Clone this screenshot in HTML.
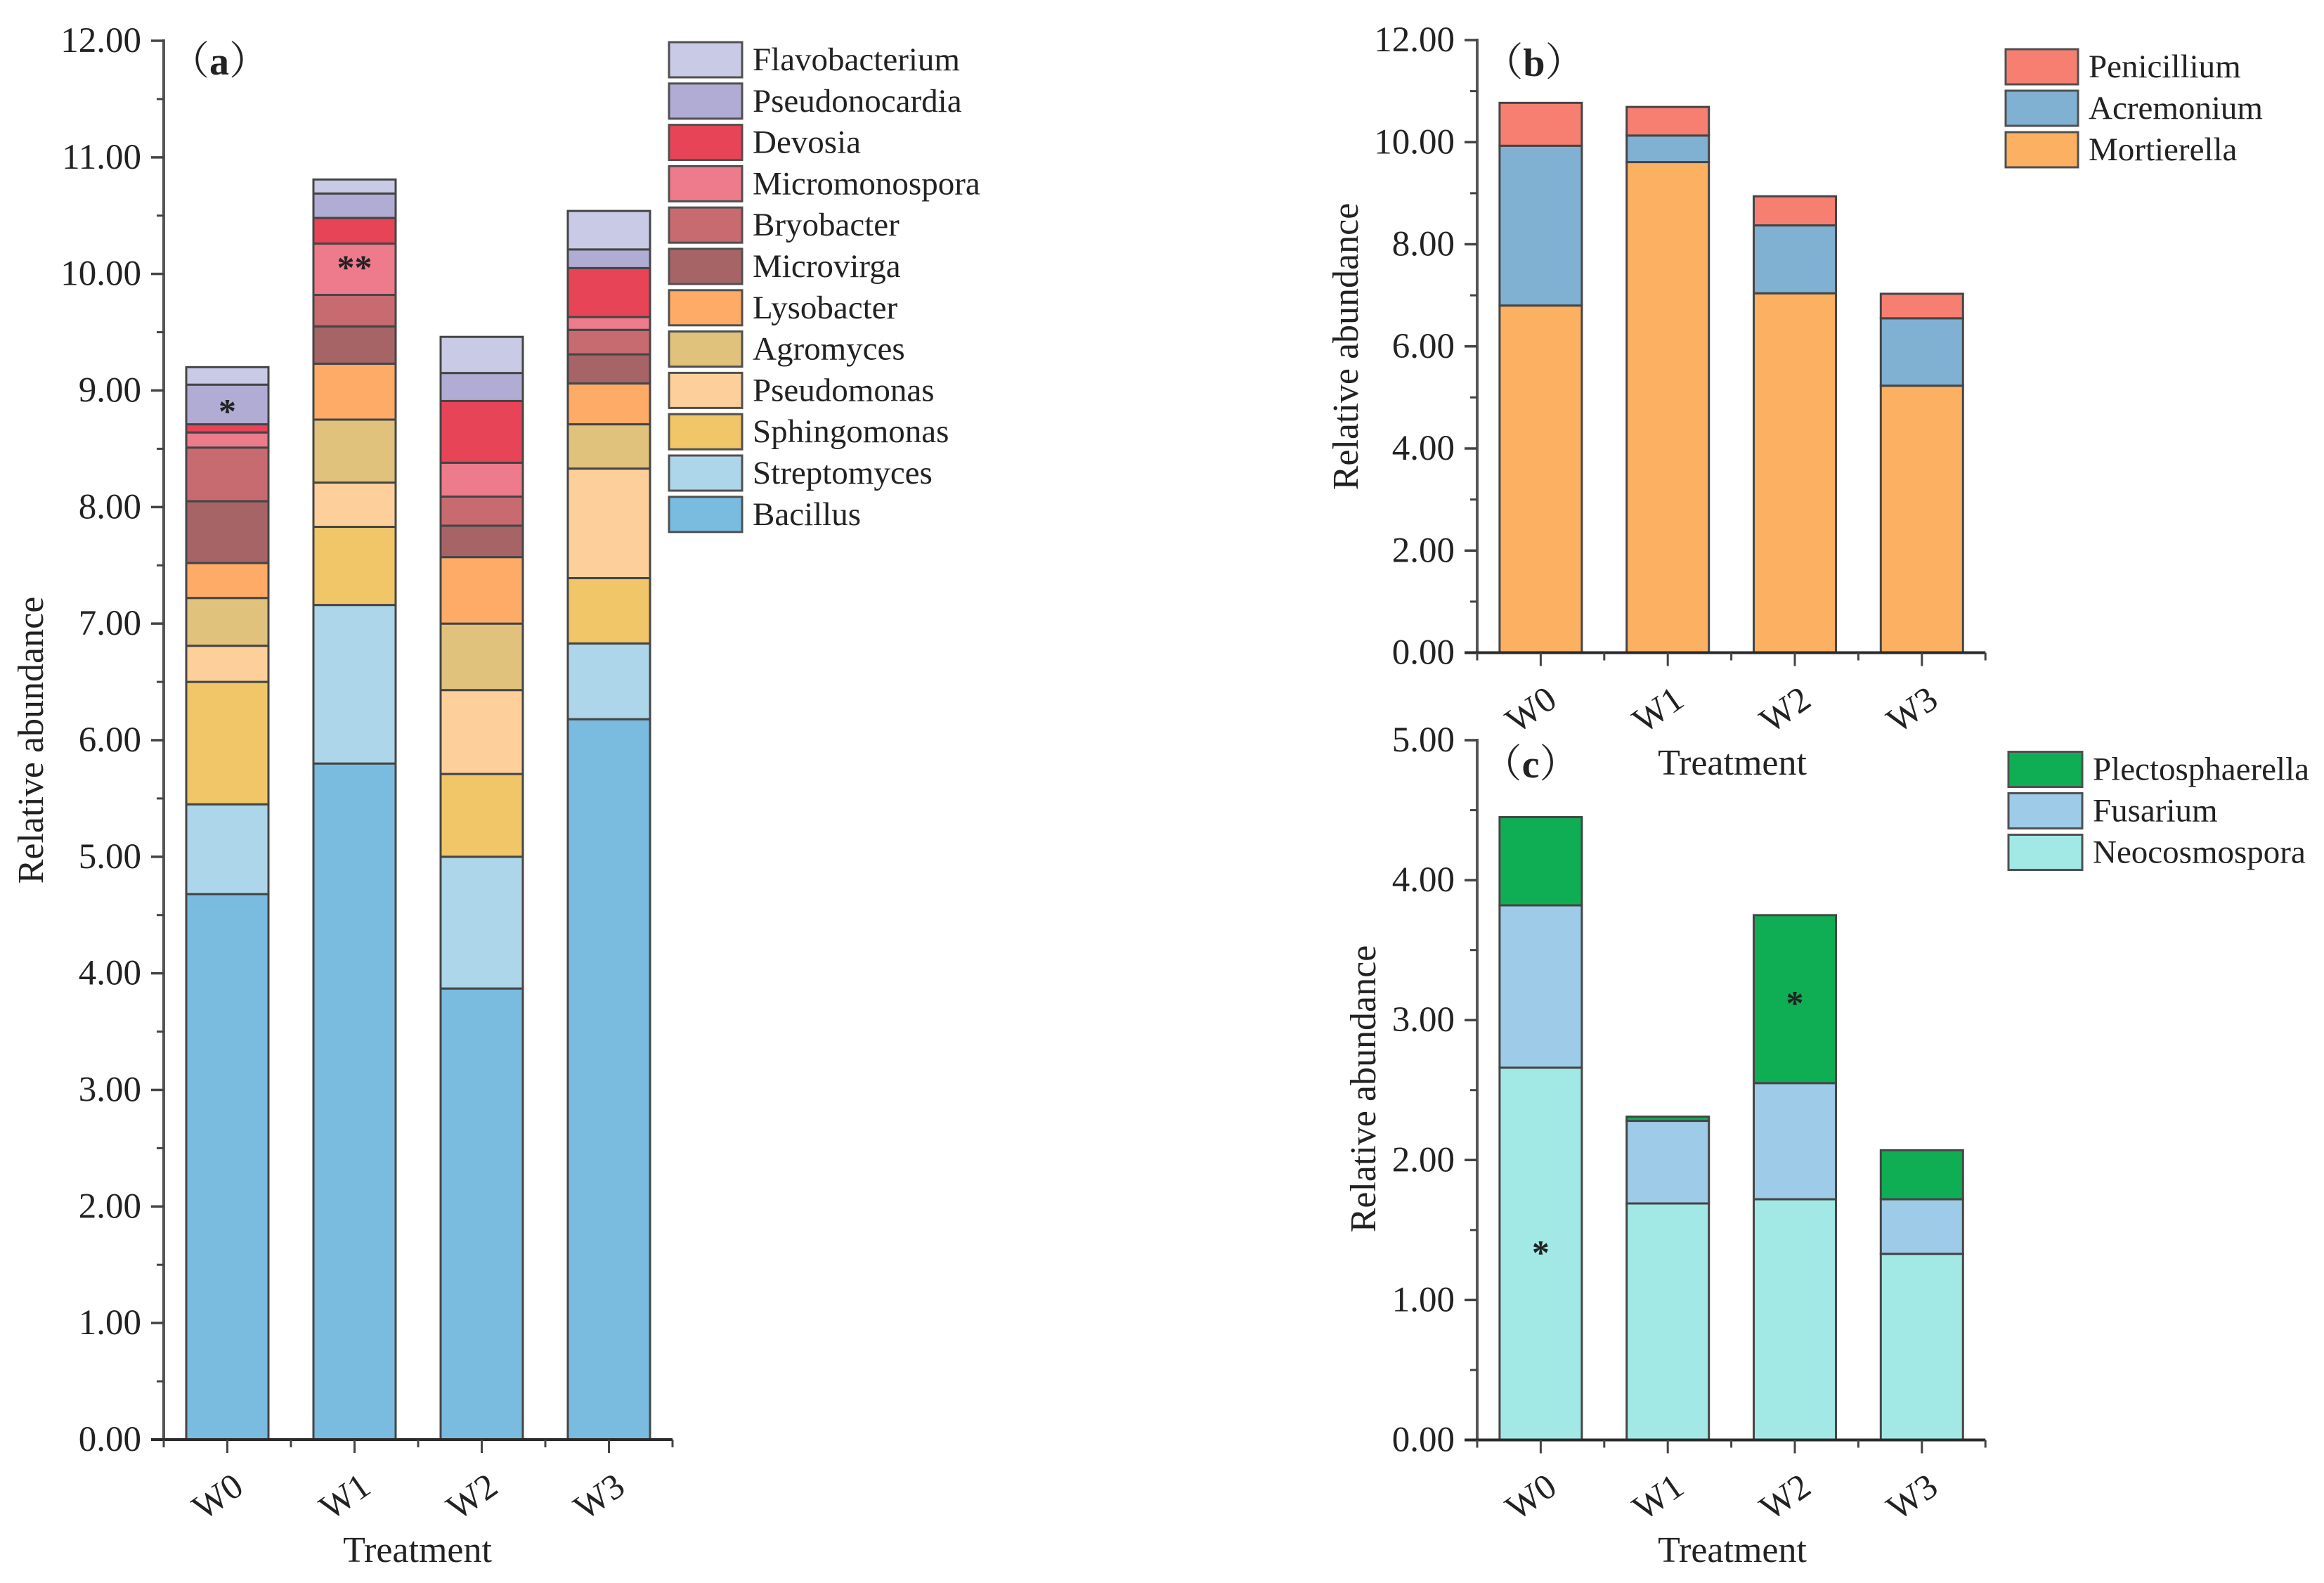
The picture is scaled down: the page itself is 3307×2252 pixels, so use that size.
<!DOCTYPE html>
<html lang="en">
<head>
<meta charset="utf-8">
<title>Relative abundance by treatment</title>
<style>
html,body{margin:0;padding:0;background:#fff;width:3307px;height:2252px;overflow:hidden}
svg{display:block}
text{font-family:"Liberation Serif","Noto Serif CJK SC",serif;fill:#222}
</style>
</head>
<body>
<svg id="figure" xmlns="http://www.w3.org/2000/svg" width="3307" height="2252" viewBox="0 0 3307 2252">
<rect x="0" y="0" width="3307" height="2252" fill="#ffffff"/>
<g id="panel-a"></g>
<g id="panel-b"></g>
<g id="panel-c"></g>
</svg>
<script>
// Shared categories
const categories = ['W0', 'W1', 'W2', 'W3'];

// Panel (a) – stacked segment values, bottom to top
const seriesNamesA = ['Bacillus', 'Streptomyces', 'Sphingomonas', 'Pseudomonas', 'Agromyces', 'Lysobacter', 'Microvirga', 'Bryobacter', 'Micromonospora', 'Devosia', 'Pseudonocardia', 'Flavobacterium'];
const bacillus = [4.68, 5.80, 3.87, 6.18];
const streptomyces = [0.77, 1.36, 1.13, 0.65];
const sphingomonas = [1.05, 0.67, 0.71, 0.56];
const pseudomonas = [0.31, 0.38, 0.72, 0.94];
const agromyces = [0.41, 0.54, 0.57, 0.38];
const lysobacter = [0.30, 0.48, 0.57, 0.35];
const microvirga = [0.53, 0.32, 0.27, 0.25];
const bryobacter = [0.46, 0.27, 0.25, 0.21];
const micromonospora = [0.13, 0.44, 0.29, 0.11];
const devosia = [0.07, 0.22, 0.53, 0.42];
const pseudonocardia = [0.34, 0.21, 0.24, 0.16];
const flavobacterium = [0.15, 0.12, 0.31, 0.33];
const tickLabelsA = ['0.00', '1.00', '2.00', '3.00', '4.00', '5.00', '6.00', '7.00', '8.00', '9.00', '10.00', '11.00', '12.00'];

// Panel (b)
const seriesNamesB = ['Mortierella', 'Acremonium', 'Penicillium'];
const mortierella = [6.80, 9.61, 7.04, 5.23];
const acremonium = [3.13, 0.52, 1.33, 1.32];
const penicillium = [0.84, 0.56, 0.57, 0.48];
const tickLabelsB = ['0.00', '2.00', '4.00', '6.00', '8.00', '10.00', '12.00'];

// Panel (c)
const seriesNamesC = ['Neocosmospora', 'Fusarium', 'Plectosphaerella'];
const neocosmospora = [2.66, 1.69, 1.72, 1.33];
const fusarium = [1.16, 0.59, 0.83, 0.39];
const plectosphaerella = [0.63, 0.03, 1.20, 0.35];
const tickLabelsC = ['0.00', '1.00', '2.00', '3.00', '4.00', '5.00'];

const SVG_NS = 'http://www.w3.org/2000/svg';

function make(parent, tag, attrs, content) {
  const node = document.createElementNS(SVG_NS, tag);
  for (const key in attrs) node.setAttribute(key, attrs[key]);
  if (content !== undefined) node.textContent = content;
  parent.appendChild(node);
  return node;
}

function slug(s) {
  return s.toLowerCase().replace(/[^a-z0-9]+/g, '-');
}

function drawPanel(opts) {
  const root = document.getElementById(opts.id);
  const yMax = parseFloat(opts.tickLabels[opts.tickLabels.length - 1]);
  const y = v => opts.y0 - (v / yMax) * (opts.y0 - opts.yTop);
  const step = opts.step;
  const x = i => opts.x0 + step * (i + 0.5);
  const xEnd = opts.x0 + step * categories.length;

  // bars
  const barWidth = 117;
  categories.forEach((cat, c) => {
    let base = 0;
    opts.series.forEach((vals, s) => {
      const top = base + vals[c];
      const rect = make(root, 'rect', {
        x: x(c) - barWidth / 2,
        y: y(top),
        width: barWidth,
        height: y(base) - y(top),
        fill: opts.colors[s],
        stroke: '#454545',
        'stroke-width': 3
      });
      
      
      base = top;
    });
  });

  // y axis
  const yAxis = make(root, 'line', {x1: opts.x0, x2: opts.x0, y1: y(yMax) - 2, y2: opts.y0, stroke: '#555', 'stroke-width': 4});
  
  

  opts.tickLabels.forEach((lab, i) => {
    const v = parseFloat(lab);
    const tick = make(root, 'line', {x1: opts.x0 - 18, x2: opts.x0, y1: y(v), y2: y(v), stroke: '#444', 'stroke-width': 3.5});
    
    
    const label = make(root, 'text', {x: opts.x0 - 32, y: y(v) + 16, 'font-size': 51, 'text-anchor': 'end'}, lab);
    
    
    if (i < opts.tickLabels.length - 1) {
      const mid = (v + parseFloat(opts.tickLabels[i + 1])) / 2;
      const minor = make(root, 'line', {x1: opts.x0 - 10, x2: opts.x0, y1: y(mid), y2: y(mid), stroke: '#444', 'stroke-width': 3});
      
      
    }
  });

  // x axis
  const xAxis = make(root, 'line', {x1: opts.x0 - 18, x2: xEnd, y1: opts.y0, y2: opts.y0, stroke: '#2a2a2a', 'stroke-width': 4});
  
  

  categories.forEach((cat, c) => {
    const tick = make(root, 'line', {x1: x(c), x2: x(c), y1: opts.y0, y2: opts.y0 + 19, stroke: '#444', 'stroke-width': 3});
    
    
    const label = make(root, 'text', {
      'font-size': 51,
      'text-anchor': 'middle',
      transform: 'translate(' + (x(c) - 14) + ',' + (opts.y0 + 81) + ') rotate(-35) translate(0,17)'
    }, cat);
    
    
  });
  for (let c = 0; c <= categories.length; c++) {
    const bx = opts.x0 + step * c;
    const minor = make(root, 'line', {x1: bx, x2: bx, y1: opts.y0, y2: opts.y0 + 11, stroke: '#444', 'stroke-width': 3});
    
    
  }

  // axis titles
  const yTitle = make(root, 'text', {
    'font-size': 52,
    'text-anchor': 'middle',
    transform: 'translate(' + opts.yTitleX + ',' + opts.yTitleY + ') rotate(-90)'
  }, 'Relative abundance');
  
  

  const xTitle = make(root, 'text', {x: opts.xTitleX, y: opts.xTitleY, 'font-size': 52, 'text-anchor': 'middle'}, 'Treatment');
  
  

  // panel letter
  const letter = make(root, 'text', {x: opts.letterX, y: opts.letterY, 'font-size': 56, 'text-anchor': 'middle'});
  
  
  make(letter, 'tspan', {}, '（');
  make(letter, 'tspan', {'font-weight': 'bold'}, opts.letter);
  make(letter, 'tspan', {}, '）');

  // significance marks
  opts.marks.forEach(m => {
    let base = 0;
    for (let s = 0; s < m.series; s++) base += opts.series[s][m.cat];
    const mid = base + opts.series[m.series][m.cat] * m.frac;
    const star = make(root, 'text', {x: x(m.cat), y: y(mid) + 20, 'font-size': 50, 'text-anchor': 'middle', 'font-weight': 'bold'}, m.text);
    
    
  });

  // legend
  opts.names.forEach((name, s) => {
    const row = opts.names.length - 1 - s;
    const cy = opts.legendY + row * opts.legendStep;
    const swatch = make(root, 'rect', {
      x: opts.legendX, y: cy - 25, width: opts.legendW, height: 50,
      fill: opts.colors[s], stroke: '#505050', 'stroke-width': 3
    });
    
    
    const label = make(root, 'text', {x: opts.legendX + opts.legendW + 15, y: cy + 15, 'font-size': 47}, name);
    
    
  });
}

drawPanel({
  id: 'panel-a', letter: 'a', letterX: 312, letterY: 106,
  x0: 233, step: 181, y0: 2048, yTop: 58,
  tickLabels: tickLabelsA,
  names: seriesNamesA,
  series: [bacillus, streptomyces, sphingomonas, pseudomonas, agromyces, lysobacter, microvirga, bryobacter, micromonospora, devosia, pseudonocardia, flavobacterium],
  colors: ['#7abbe0', '#aed6ea', '#f0c668', '#fdd09b', '#e0c27d', '#fdab67', '#a66467', '#c86b70', '#ed7b8b', '#e74458', '#b0acd4', '#c9cae6'],
  yTitleX: 61, yTitleY: 1053,
  xTitleX: 594, xTitleY: 2222,
  legendX: 952, legendW: 104, legendY: 85, legendStep: 58.8,
  marks: [{cat: 0, series: 10, frac: 0.39, text: '*'}, {cat: 1, series: 8, frac: 0.58, text: '**'}]
});

drawPanel({
  id: 'panel-b', letter: 'b', letterX: 2183, letterY: 108,
  x0: 2102, step: 180.8, y0: 928.5, yTop: 57,
  tickLabels: tickLabelsB,
  names: seriesNamesB,
  series: [mortierella, acremonium, penicillium],
  colors: ['#fbb161', '#80b0d2', '#f67f72'],
  yTitleX: 1932, yTitleY: 493,
  xTitleX: 2465, xTitleY: 1102,
  legendX: 2854, legendW: 103, legendY: 95, legendStep: 59,
  marks: []
});

drawPanel({
  id: 'panel-c', letter: 'c', letterX: 2178, letterY: 1106,
  x0: 2102, step: 180.8, y0: 2048.5, yTop: 1053,
  tickLabels: tickLabelsC,
  names: seriesNamesC,
  series: [neocosmospora, fusarium, plectosphaerella],
  colors: ['#a2e9e5', '#9dcbe8', '#10ae54'],
  yTitleX: 1957, yTitleY: 1549,
  xTitleX: 2465, xTitleY: 2222,
  legendX: 2858, legendW: 105, legendY: 1094.5, legendStep: 59,
  marks: [{cat: 0, series: 0, frac: 0.51, text: '*'}, {cat: 2, series: 2, frac: 0.49, text: '*'}]
});
</script>
</body>
</html>
